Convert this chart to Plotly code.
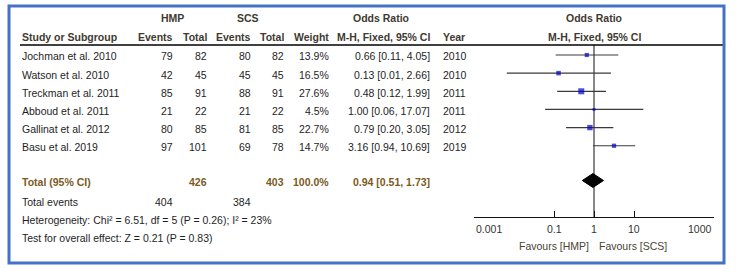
import math
import plotly.graph_objects as go

# ---------------- data ----------------
studies = ["Jochman et al. 2010", "Watson et al. 2010", "Treckman et al. 2011",
           "Abboud et al. 2011", "Gallinat et al. 2012", "Basu et al. 2019"]
hmp_events = [79, 42, 85, 21, 80, 97]
hmp_total = [82, 45, 91, 22, 85, 101]
scs_events = [80, 45, 88, 21, 81, 69]
scs_total = [82, 45, 91, 22, 85, 78]
weights = [13.9, 16.5, 27.6, 4.5, 22.7, 14.7]
odds = [0.66, 0.13, 0.48, 1.00, 0.79, 3.16]
ci_low = [0.11, 0.0066, 0.12, 0.06, 0.20, 0.94]
ci_high = [4.05, 2.66, 1.99, 17.07, 3.05, 10.69]
years = [2010, 2010, 2011, 2011, 2012, 2019]

total_hmp = 426
total_scs = 403
total_weight = 100.0
total_or = 0.94
total_lo = 0.51
total_hi = 1.73
events_hmp = 404
events_scs = 384
heterogeneity = "Heterogeneity: Chi² = 6.51, df = 5 (P = 0.26); I² = 23%"
overall = "Test for overall effect: Z = 0.21 (P = 0.83)"

tick_vals = [0.001, 0.1, 1, 10, 1000]
tick_text = ["0.001", "0.1", "1", "10", "1000"]

# ---------------- layout helpers ----------------
W, H = 737, 271
AXIS_Y = 217
FONT = "Liberation Sans, Arial, sans-serif"
FS = 10.5
HEAD_C = "#3f3a30"
TOT_C = "#7B5A1E"
TXT_C = "#1e1e1e"

def px(x):
    return x / W

def py(y):
    return 1 - y / H

row_y = [55 + 18.15 * i for i in range(len(studies))]
total_y = 180.5
events_y = 201.5
het_y = 220
test_y = 238

ann = []

def text(x, y, s, anchor="left", color=TXT_C, bold=False, size=FS):
    if bold:
        s = "<b>" + s + "</b>"
    ann.append(dict(x=px(x), y=py(y), xref="paper", yref="paper", text=s,
                    showarrow=False, xanchor=anchor, yanchor="middle",
                    font=dict(family=FONT, size=size, color=color)))

# headers
text(172, 18, "HMP", "center", HEAD_C, True)
text(248, 18, "SCS", "center", HEAD_C, True)
text(381, 18, "Odds Ratio", "center", HEAD_C, True)
text(594, 18, "Odds Ratio", "center", HEAD_C, True)
text(20, 37, "Study or Subgroup", "left", HEAD_C, True)
text(175, 37, "Events", "right", HEAD_C, True)
text(209, 37, "Total", "right", HEAD_C, True)
text(253, 37, "Events", "right", HEAD_C, True)
text(286, 37, "Total", "right", HEAD_C, True)
text(331, 37, "Weight", "right", HEAD_C, True)
text(432, 37, "M-H, Fixed, 95% CI", "right", HEAD_C, True)
text(441, 37, "Year", "left", HEAD_C, True)
text(594, 37, "M-H, Fixed, 95% CI", "center", HEAD_C, True)

for i, s in enumerate(studies):
    y = row_y[i] + 1.5
    text(20, y, s)
    text(175, y, str(hmp_events[i]), "right")
    text(209, y, str(hmp_total[i]), "right")
    text(253, y, str(scs_events[i]), "right")
    text(286, y, str(scs_total[i]), "right")
    text(331, y, f"{weights[i]:.1f}%", "right")
    text(432, y, f"{odds[i]:.2f} [{ci_low[i]:.2f}, {ci_high[i]:.2f}]", "right")
    text(441, y, str(years[i]), "left")

ty = total_y + 1.5
text(20, ty, "Total (95% CI)", "left", TOT_C, True)
text(209, ty, str(total_hmp), "right", TOT_C, True)
text(286, ty, str(total_scs), "right", TOT_C, True)
text(331, ty, f"{total_weight:.1f}%", "right", TOT_C, True)
text(432, ty, f"{total_or:.2f} [{total_lo:.2f}, {total_hi:.2f}]", "right", TOT_C, True)

text(20, events_y, "Total events")
text(175, events_y, str(events_hmp), "right")
text(253, events_y, str(events_scs), "right")
text(20, het_y, heterogeneity)
text(20, test_y, overall)

text(554, 245.5, "Favours [HMP]", "center", "#4a4436", False, 10.5)
text(633, 245.5, "Favours [SCS]", "center", "#4a4436", False, 10.5)

# tick labels of the log axis, placed on the axis' own coordinates
n_ticks = len(tick_vals)
for k, (v, t) in enumerate(zip(tick_vals, tick_text)):
    anchor = "left" if k == 0 else ("right" if k == n_ticks - 1 else "center")
    ann.append(dict(x=math.log10(v), y=py(229), xref="x", yref="paper", text=t,
                    showarrow=False, xanchor=anchor, yanchor="middle",
                    font=dict(family=FONT, size=10.5, color="#333333")))

# ---------------- traces ----------------
fig = go.Figure()

# vertical line of no effect
fig.add_trace(go.Scatter(x=[1, 1], y=[45, AXIS_Y], mode="lines",
                         line=dict(color="#111111", width=1), hoverinfo="skip",
                         showlegend=False))

# CI lines
lx, ly = [], []
for lo, hi, y in zip(ci_low, ci_high, row_y):
    lx += [lo, hi, None]
    ly += [y, y, None]
fig.add_trace(go.Scatter(x=lx, y=ly, mode="lines",
                         line=dict(color="#3a3a3a", width=1.2), showlegend=False))

# point estimates
sizes = [2.3 + 0.135 * w for w in weights]
fig.add_trace(go.Scatter(x=odds, y=row_y, mode="markers",
                         marker=dict(symbol="square", size=sizes, color="#0000C8",
                                     line=dict(width=0)),
                         showlegend=False))

# diamond for pooled estimate
dh = 7
fig.add_trace(go.Scatter(x=[total_lo, total_or, total_hi, total_or, total_lo],
                         y=[total_y, total_y - dh, total_y, total_y + dh, total_y],
                         mode="lines", fill="toself", fillcolor="black",
                         line=dict(color="black", width=1), showlegend=False))

shapes = [
    dict(type="line", xref="paper", yref="paper", x0=px(20), x1=px(723),
         y0=py(45), y1=py(45), line=dict(color="black", width=1.5)),
    dict(type="rect", xref="paper", yref="paper", x0=px(9), x1=px(724),
         y0=py(263), y1=py(6), line=dict(color="#4472C4", width=3)),
]

fig.update_layout(
    width=W, height=H,
    margin=dict(l=0, r=0, t=0, b=0),
    paper_bgcolor="white", plot_bgcolor="white",
    showlegend=False,
    annotations=ann, shapes=shapes,
    xaxis=dict(type="log", range=[-3, 3], domain=[474 / W, 714 / W],
               showgrid=False, zeroline=False, showline=True, linecolor="#111111",
               linewidth=1, ticks="inside", ticklen=6, tickwidth=1, tickcolor="#111111",
               tickvals=tick_vals, showticklabels=False,
               fixedrange=True),
    yaxis=dict(range=[AXIS_Y, 0], domain=[1 - AXIS_Y / H, 1], visible=False,
               showgrid=False, zeroline=False, fixedrange=True),
)

fig.write_html("out.html", config={"displayModeBar": False},
               post_script="document.body.style.margin='0';document.body.style.overflow='hidden';")
